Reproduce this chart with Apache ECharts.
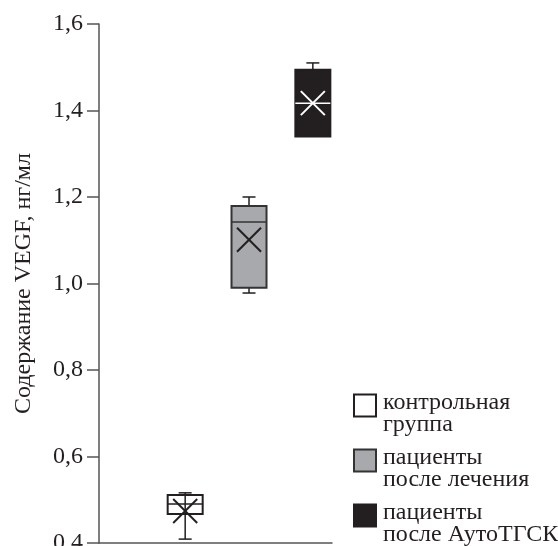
<!DOCTYPE html>
<html>
<head>
<meta charset="utf-8">
<script src="https://cdn.jsdelivr.net/npm/echarts@6/dist/echarts.min.js"></script>
<style>
  html, body { margin: 0; padding: 0; background: #fff; }
  #container { width: 558px; height: 546px; }
</style>
</head>
<body>
<div id="container"></div>
<script>
// datos (VEGF, нг/мл)
const groups = ['контрольная\nгруппа', 'пациенты\nпосле лечения', 'пациенты\nпосле АутоТГСК'];
const positions = [1, 2, 3];
const minVals = [0.409, 0.978, 1.34];
const q1Vals = [0.467, 0.99, 1.34];
const medianVals = [0.49, 1.142, 1.417];
const q3Vals = [0.511, 1.179, 1.494];
const maxVals = [0.516, 1.2, 1.51];
const meanVals = [0.474, 1.101, 1.417];
const yTicks = [0.4, 0.6, 0.8, 1.0, 1.2, 1.4, 1.6];

// estilos
const boxFill = ['none', '#a7a9ac', '#231f20'];
const legendFill = ['#ffffff', '#a7a9ac', '#231f20'];
const boxStroke = ['#231f20', '#333333', '#231f20'];
const medianColor = ['#231f20', '#333333', '#ffffff'];
const crossColor = ['#231f20', '#231f20', '#ffffff'];
const legendTops = [375, 430, 485];
const fontSerif = '"Liberation Serif", "DejaVu Serif", serif';

function renderBox(i) {
	return function (params, api) {
		const x = api.value(0);
		const pMin = api.coord([x, api.value(1)]);
		const pQ1 = api.coord([x, api.value(2)]);
		const pMed = api.coord([x, api.value(3)]);
		const pQ3 = api.coord([x, api.value(4)]);
		const pMax = api.coord([x, api.value(5)]);
		const pMean = api.coord([x, api.value(6)]);
		const half = 17.5, cap = 6.5, cr = 12;
		const cx = pQ1[0];
		let children = [];
		// bigote
		children.push({ type: 'line', shape: { x1: cx, y1: pMin[1], x2: cx, y2: pMax[1] },
			style: { stroke: '#231f20', lineWidth: 1.5 } });
		if (pMin[1] - pQ1[1] > 1)
			children.push({ type: 'line', shape: { x1: cx - cap, y1: pMin[1], x2: cx + cap, y2: pMin[1] },
				style: { stroke: '#231f20', lineWidth: 1.5 } });
		children.push({ type: 'line', shape: { x1: cx - cap, y1: pMax[1], x2: cx + cap, y2: pMax[1] },
			style: { stroke: '#231f20', lineWidth: 1.5 } });
		// caja
		children.push({ type: 'rect', shape: { x: cx - half, y: pQ3[1], width: half * 2, height: pQ1[1] - pQ3[1] },
			style: { fill: boxFill[i], stroke: boxStroke[i], lineWidth: 2 } });
		// mediana
		children.push({ type: 'line', shape: { x1: cx - half, y1: pMed[1], x2: cx + half, y2: pMed[1] },
			style: { stroke: medianColor[i], lineWidth: 1.5 } });
		// media (X)
		children.push({ type: 'line', shape: { x1: pMean[0] - cr, y1: pMean[1] - cr, x2: pMean[0] + cr, y2: pMean[1] + cr },
			style: { stroke: crossColor[i], lineWidth: 2 } });
		children.push({ type: 'line', shape: { x1: pMean[0] - cr, y1: pMean[1] + cr, x2: pMean[0] + cr, y2: pMean[1] - cr },
			style: { stroke: crossColor[i], lineWidth: 2 } });
		return { type: 'group', children };
	};
}

var dom = document.getElementById('container');
var myChart = echarts.init(dom);

let series = [];
groups.forEach((name, i) => {
	series = [...series, {
		name,
		type: 'custom',
		renderItem: renderBox(i),
		encode: { x: 0, y: [1, 2, 3, 4, 5, 6] },
		itemStyle: { color: legendFill[i], borderColor: boxStroke[i], borderWidth: 2 },
		data: [[positions[i], minVals[i], q1Vals[i], medianVals[i], q3Vals[i], maxVals[i], meanVals[i]]],
		z: 3
	}];
});

// una leyenda por grupo, para fijar la posicion de cada una
const legends = groups.map((name, i) => ({
	orient: 'vertical',
	left: 353,
	top: legendTops[i],
	padding: 0,
	itemWidth: 22,
	itemHeight: 22,
	selectedMode: false,
	// linea vacia arriba (mas baja): baja el texto respecto al cuadrado
	formatter: (n) => '{e| }\n' + n.split('\n').map((l) => '{t|' + l + '}').join('\n'),
	data: [{
		name,
		icon: 'rect',
		itemStyle: { color: legendFill[i], borderColor: boxStroke[i], borderWidth: 2 }
	}],
	textStyle: {
		fontFamily: fontSerif,
		fontSize: 24,
		lineHeight: 22,
		color: '#231f20',
		padding: [0, 0, 0, 2],
		rich: {
			e: { fontSize: 10, lineHeight: 17 },
			t: { fontFamily: fontSerif, fontSize: 24, lineHeight: 22, color: '#231f20' }
		}
	}
}));

const option = {
	animation: false,
	backgroundColor: '#fff',
	grid: { left: 99, right: 226, top: 24, bottom: 3, containLabel: false, outerBoundsMode: 'none' },
	legend: legends,
	xAxis: {
		type: 'value',
		min: -0.35,
		max: 3.3,
		axisLine: { show: true, onZero: false, lineStyle: { color: '#555', width: 1.5 } },
		axisTick: { show: false },
		axisLabel: { show: false },
		splitLine: { show: false }
	},
	yAxis: {
		type: 'value',
		min: yTicks[0],
		max: yTicks[yTicks.length - 1],
		interval: 0.2,
		name: 'Содержание VEGF, нг/мл',
		nameLocation: 'middle',
		nameGap: 63,
		nameTextStyle: { fontFamily: fontSerif, fontSize: 24, color: '#231f20' },
		axisLine: { show: true, onZero: false, lineStyle: { color: '#555', width: 1.5 } },
		axisTick: { show: true, length: 12, lineStyle: { color: '#555', width: 1.5 } },
		axisLabel: {
			margin: 16,
			fontFamily: fontSerif,
			fontSize: 24,
			color: '#231f20',
			formatter: (v) => v.toFixed(1).replace('.', ',')
		},
		splitLine: { show: false }
	},
	series
};

myChart.setOption(option, true);
</script>
</body>
</html>
